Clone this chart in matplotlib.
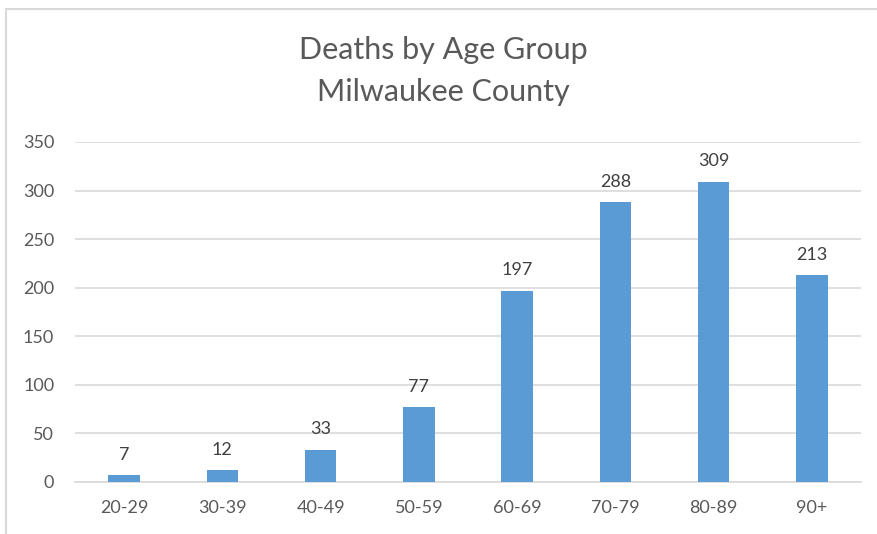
import matplotlib.pyplot as plt
from matplotlib.patches import Rectangle

# Datos
age_groups = ["20-29", "30-39", "40-49", "50-59", "60-69", "70-79", "80-89", "90+"]
deaths = [7, 12, 33, 77, 197, 288, 309, 213]
y_ticks = [0, 50, 100, 150, 200, 250, 300, 350]

plt.rcParams['font.family'] = ['Lato', 'DejaVu Sans']

fig = plt.figure(figsize=(8.78, 5.34), dpi=100)
ax = fig.add_axes([75/878, 1-482/534, (861-75)/878, (482-142)/534])

# Borde del gráfico (recortado a la derecha y abajo)
fig.patches.append(Rectangle((6/878, -0.2), 2, 1.2 - 9/534, transform=fig.transFigure,
                             fill=False, edgecolor='#D9D9D9', linewidth=1.5))

x = range(len(age_groups))
bars = ax.bar(x, deaths, width=0.32, color='#5B9BD5', zorder=3)

for xi, v in zip(x, deaths):
    ax.annotate(str(v), (xi, v), xytext=(0, 9), textcoords='offset points',
                ha='center', va='bottom', fontsize=13, color='#404040')

ax.set_xlim(-0.5, len(age_groups) - 0.5)
ax.set_ylim(0, 350)
ax.set_yticks(y_ticks)
ax.set_xticks(list(x))
ax.set_xticklabels(age_groups)
ax.grid(axis='y', color='#D9D9D9', linewidth=1.2, zorder=0)
ax.tick_params(axis='both', length=0, labelsize=13, labelcolor='#595959')
ax.tick_params(axis='y', pad=15)
ax.tick_params(axis='x', pad=13)
for s in ['top', 'right', 'left']:
    ax.spines[s].set_visible(False)
ax.spines['bottom'].set_color('#D9D9D9')
ax.spines['bottom'].set_linewidth(1.2)

fig.text(443/878, 1-50/534, "Deaths by Age Group", ha='center', va='center',
         fontsize=22, color='#595959')
fig.text(443/878, 1-92/534, "Milwaukee County", ha='center', va='center',
         fontsize=22, color='#595959')

fig.savefig("out.png", dpi=100)
